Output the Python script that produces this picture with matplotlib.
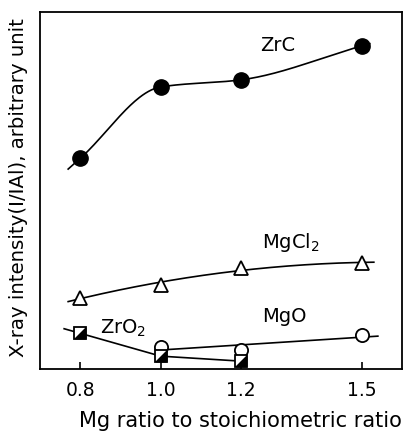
import numpy as np
import matplotlib
matplotlib.use('Agg')
import matplotlib.pyplot as plt

# Data (y in arbitrary units, 0..1 of the axes)
mg_ratio = [0.8, 1.0, 1.2, 1.5]
zrc = [0.59, 0.79, 0.81, 0.905]
mgcl2 = [0.20, 0.235, 0.283, 0.297]
mgo_x = [1.0, 1.2, 1.5]
mgo = [0.062, 0.053, 0.095]
zro2 = [0.10, 0.036, 0.022]
tick_labels = ['0.8', '1.0', '1.2', '1.5']


def pchip(x, y, xs):
    # monotone cubic through the points, for a hand-drawn-like curve
    x = np.asarray(x, float)
    y = np.asarray(y, float)
    h = np.diff(x)
    d = np.diff(y) / h
    n = len(x)
    m = np.zeros(n)
    for k in range(1, n - 1):
        if d[k - 1] * d[k] <= 0:
            m[k] = 0.0
        else:
            w1 = 2 * h[k] + h[k - 1]
            w2 = h[k] + 2 * h[k - 1]
            m[k] = (w1 + w2) / (w1 / d[k - 1] + w2 / d[k])
    m[0] = d[0]
    m[-1] = d[-1]
    out = np.empty_like(xs)
    for i, xv in enumerate(xs):
        if xv <= x[0]:
            out[i] = y[0] + m[0] * (xv - x[0])
            continue
        if xv >= x[-1]:
            out[i] = y[-1] + m[-1] * (xv - x[-1])
            continue
        k = np.searchsorted(x, xv) - 1
        t = (xv - x[k]) / h[k]
        h00 = 2 * t**3 - 3 * t**2 + 1
        h10 = t**3 - 2 * t**2 + t
        h01 = -2 * t**3 + 3 * t**2
        h11 = t**3 - t**2
        out[i] = h00 * y[k] + h10 * h[k] * m[k] + h01 * y[k + 1] + h11 * h[k] * m[k + 1]
    return out


fig = plt.figure(figsize=(4.14, 4.32), dpi=100)
ax = fig.add_axes([40 / 414, 63 / 432, 362 / 414, 357 / 432])

lw = 1.2

# ZrC - smooth curve through the points
xs = np.linspace(0.77, 1.52, 200)
ax.plot(xs, pchip(mg_ratio, zrc, xs), color='k', lw=lw)
ax.plot(mg_ratio, zrc, 'o', ms=11, color='k')

# MgCl2 - smooth trend
xs = np.linspace(0.77, 1.53, 200)
ax.plot(xs, np.polyval(np.polyfit(mg_ratio, mgcl2, 2), xs), color='k', lw=lw)
ax.plot(mg_ratio, mgcl2, '^', ms=10, mfc='white', mec='k', mew=1.3)

# MgO - straight trend
xs = np.linspace(1.0, 1.54, 50)
ax.plot(xs, np.polyval(np.polyfit(mgo_x, mgo, 1), xs), color='k', lw=lw)
ax.plot(mgo_x, mgo, 'o', ms=9.5, mfc='white', mec='k', mew=1.3)

# ZrO2 - segments, with a short lead-in on the left
lead = zro2[0] + (zro2[0] - zro2[1]) / (mg_ratio[1] - mg_ratio[0]) * 0.04
ax.plot([0.76] + mg_ratio[:3], [lead] + zro2, color='k', lw=lw)
ax.plot(mg_ratio[:3], zro2, 's', ms=8.5, mfc='white', mec='k', mew=1.3)
half = [(1, -1), (1, 1), (-1, -1), (1, -1)]
ax.plot(mg_ratio[:3], zro2, marker=half, ls='none', ms=7.5, color='k')

fs = 14
ax.text(1.29, 0.905, 'ZrC', fontsize=fs, ha='center', va='center')
ax.text(1.252, 0.353, r'MgCl$_2$', fontsize=fs, ha='left', va='center')
ax.text(1.252, 0.146, 'MgO', fontsize=fs, ha='left', va='center')
ax.text(0.849, 0.115, r'ZrO$_2$', fontsize=fs, ha='left', va='center')

ax.set_xlim(0.7, 1.6)
ax.set_ylim(0, 1)
ax.set_xticks(mg_ratio)
ax.set_xticklabels(tick_labels, fontsize=13.5)
ax.set_yticks([])
ax.tick_params(axis='x', direction='in', length=5, width=1.2, pad=9)
for s in ax.spines.values():
    s.set_linewidth(1.3)

fig.text(240 / 414, 1 - 421 / 432, 'Mg ratio to stoichiometric ratio',
         fontsize=15, ha='center', va='center')
fig.text(19 / 414, 1 - 188 / 432, 'X-ray intensity(I/IAl), arbitrary unit',
         fontsize=14.2, ha='center', va='center', rotation=90)

fig.savefig('out.png', dpi=100)
